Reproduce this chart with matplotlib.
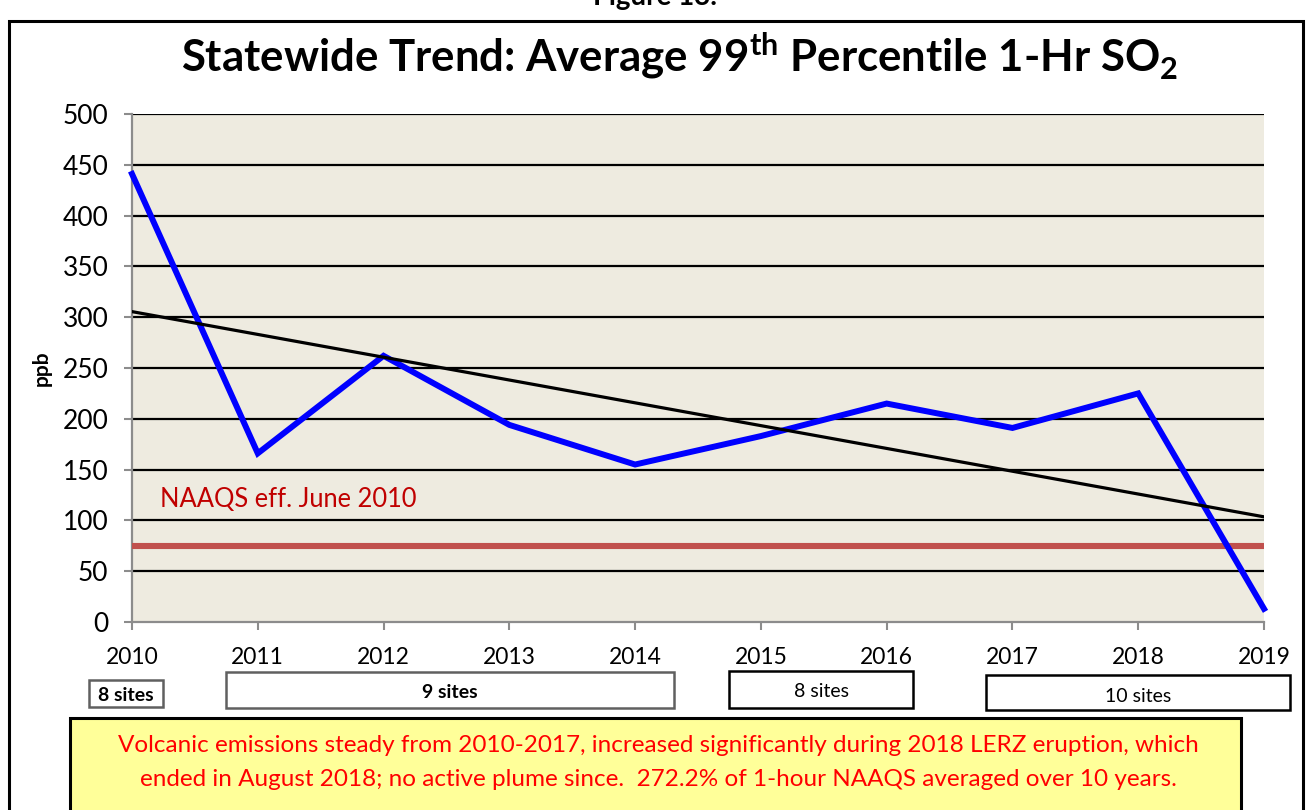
import matplotlib
matplotlib.use("Agg")
import matplotlib.pyplot as plt
from matplotlib.patches import Rectangle
import numpy as np

# ---------------- data ----------------
years = [2010, 2011, 2012, 2013, 2014, 2015, 2016, 2017, 2018, 2019]
so2_ppb = [441, 166, 262, 194, 155, 183, 215, 191, 225, 13]
naaqs_level = 75
yticks = [0, 50, 100, 150, 200, 250, 300, 350, 400, 450, 500]
site_labels = ["8 sites", "9 sites", "8 sites", "10 sites"]
title_text = r"Statewide Trend: Average 99$^{\mathbf{th}}$ Percentile 1-Hr SO$_{\mathbf{2}}$"
naaqs_text = "NAAQS eff. June 2010"
note_lines = ["Volcanic emissions steady from 2010-2017, increased significantly during 2018 LERZ eruption, which",
              "ended in August 2018; no active plume since.  272.2% of 1-hour NAAQS averaged over 10 years."]

FONT = "Lato"
plt.rcParams["font.family"] = [FONT, "DejaVu Sans"]
plt.rcParams["mathtext.fontset"] = "custom"
plt.rcParams["mathtext.rm"] = FONT
plt.rcParams["mathtext.bf"] = FONT + ":bold"

W, H = 1308, 810
fig = plt.figure(figsize=(W / 100, H / 100), dpi=100)

def fx(x):
    return x / W

def fy(y):
    return 1 - y / H

# axes
L, R, T, B = 132, 1264, 114, 622
ax = fig.add_axes([fx(L), fy(B), (R - L) / W, (B - T) / H])
ax.set_facecolor("#EEEBE0")
ax.set_xlim(years[0], years[-1])
ax.set_ylim(0, 500)
ax.set_yticks(yticks)
ax.set_xticks(years)
ax.set_xticklabels([str(y) for y in years])
for yv in yticks[1:]:
    ax.axhline(yv, color="black", lw=1.6, zorder=1)
for s in ["top", "right"]:
    ax.spines[s].set_visible(False)
for s in ["left", "bottom"]:
    ax.spines[s].set_color("#8C8C8C")
    ax.spines[s].set_linewidth(1.6)
ax.tick_params(axis="y", length=6, width=1.5, color="#8C8C8C", labelsize=19, pad=11)
ax.tick_params(axis="x", length=6, width=1.5, color="#8C8C8C", labelsize=16.5, pad=12)
ax.set_ylabel("ppb", fontsize=15, fontweight="bold", labelpad=8)

# NAAQS line
ax.axhline(naaqs_level, color="#C0504D", lw=4.4, zorder=3, solid_capstyle="butt")
ax.text(2010.22, 121, naaqs_text, color="#C00000", fontsize=18.4, va="center", ha="left")

# data line
ax.plot(years, so2_ppb, color="#0000FF", lw=4.3, zorder=4, solid_joinstyle="miter", clip_on=False)

# linear trend
coef = np.polyfit(years, so2_ppb, 1)
ax.plot([years[0], years[-1]], np.polyval(coef, [years[0], years[-1]]), color="black", lw=2.3, zorder=5)

# title
fig.text(fx(680), fy(56), title_text, ha="center", va="center", fontsize=31.5, fontweight="bold")
# cut-off figure heading (only its lower edge shows, as in the reference)
fig.text(fx(655), fy(5), "Figure 13.", ha="center", va="baseline", fontsize=20, fontweight="bold")

# outer border
fig.add_artist(Rectangle((fx(9), fy(830)), (1303 - 9) / W, (830 - 21) / H,
                         transform=fig.transFigure, fill=False, ec="black", lw=2.2, clip_on=True))

# site boxes
boxes = [(89, 680, 163, 707, "#606060", "bold", 14),
         (226, 672, 674, 708, "#606060", "bold", 14),
         (729, 671, 913, 708, "black", "normal", 14),
         (986, 675, 1290, 710, "black", "normal", 14)]
for (x0, y0, x1, y1, ec, wt, fs), lab in zip(boxes, site_labels):
    fig.add_artist(Rectangle((fx(x0), fy(y1)), (x1 - x0) / W, (y1 - y0) / H,
                             transform=fig.transFigure, fc="white", ec=ec, lw=1.8))
    yc = (y0 + y1) / 2 + (4 if lab == "10 sites" else 2)
    fig.text(fx((x0 + x1) / 2), fy(yc), lab, ha="center", va="center", fontsize=fs, fontweight=wt)

# yellow note box
fig.add_artist(Rectangle((fx(70), fy(830)), (1241 - 70) / W, (830 - 718) / H,
                         transform=fig.transFigure, fc="#FFFF99", ec="black", lw=2.2))
fig.text(fx(658), fy(746), note_lines[0], ha="center", va="center", fontsize=17.5, color="#FF0000")
fig.text(fx(658), fy(779), note_lines[1], ha="center", va="center", fontsize=17.5, color="#FF0000")

fig.savefig("out.png", dpi=100)
